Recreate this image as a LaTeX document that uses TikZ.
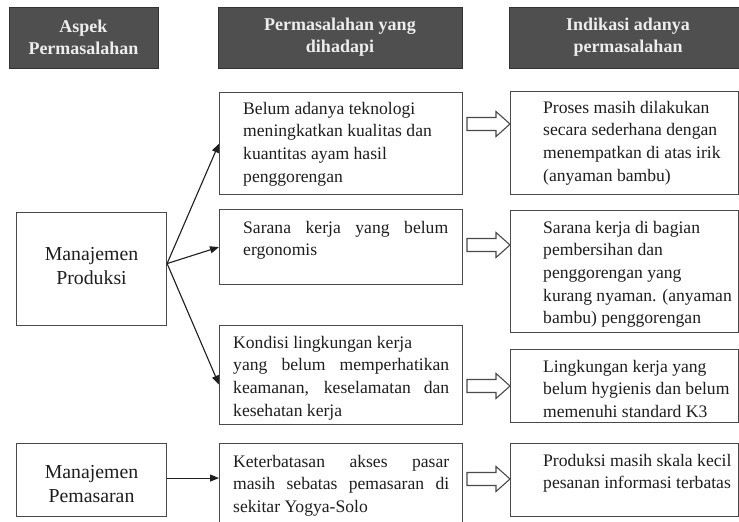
\documentclass[tikz,border=0pt]{standalone}
\usepackage{fontspec}
\setmainfont{Liberation Serif}
\usetikzlibrary{arrows.meta,calc}
\definecolor{hdfill}{HTML}{4F4F4F}
\definecolor{hdtext}{HTML}{EDEDED}
\definecolor{boxline}{HTML}{4A4A4A}
\definecolor{ink}{HTML}{1E1E1E}
\newcommand{\bodyfont}{\fontsize{17.6}{22.7}\selectfont}
\newcommand{\leftfont}{\fontsize{19.8}{23.5}\selectfont}
\newcommand{\jline}[1]{\makebox[\linewidth][s]{#1}}
\begin{document}
\begin{tikzpicture}[x=1pt,y=-1pt,
  hdbox/.style={draw=black!80, line width=0.8pt, fill=hdfill, text=hdtext,
    font=\bfseries\fontsize{18}{22}\selectfont, align=center, inner sep=0pt,
    outer sep=0pt, anchor=north west},
  box/.style={draw=boxline, line width=1.1pt, fill=white, inner sep=0pt,
    anchor=north west},
  lefttext/.style={text=ink, font=\leftfont, align=center, inner sep=0pt},
  lbl/.style={anchor=base west, inner sep=0pt, text=ink, font=\bodyfont},
  arr/.style={draw=ink, line width=1.1pt, -{Triangle[length=9pt,width=7pt]}},
  hollow/.style={draw=boxline, line width=1.1pt, fill=white, line join=miter},
  hollowarrow/.pic={\draw[hollow] (0,-6.5) -- (29,-6.5) -- (29,-12.5) -- (43,0)
     -- (29,12.5) -- (29,6.5) -- (0,6.5) -- cycle;}
]
\useasboundingbox[fill=white] (0,0) rectangle (739,522);

% headers
\node[hdbox, minimum width=149pt, minimum height=61pt] (hd1) at (9,7) {Aspek\\Permasalahan};
\node[hdbox, minimum width=244pt, minimum height=61pt] (hd2) at (218,7) {Permasalahan yang\\dihadapi};
\node[hdbox, minimum width=238pt, minimum height=61pt] (hd3) at (509,7) {Indikasi adanya\\permasalahan};

% left column
\node[box, minimum width=150pt, minimum height=113pt] (p1) at (16,212) {};
\node[box, minimum width=150pt, minimum height=73pt] (p2) at (16,443) {};
\node[lefttext] (tp1) at ($(p1.center)+(0,-3)$) {Manajemen\\Produksi};
\node[lefttext] (tp2) at ($(p2.center)+(0,4)$) {Manajemen\\Pemasaran};

% middle column
\node[box, minimum width=243pt, minimum height=102pt] (m1) at (219,92) {};
\node[box, minimum width=243pt, minimum height=75pt] (m2) at (219,209) {};
\node[box, minimum width=243pt, minimum height=99pt] (m3) at (219,325) {};
\node[box, minimum width=243pt, minimum height=90pt] (m4) at (219,443) {};

% right column
\node[box, minimum width=228pt, minimum height=103pt] (r1) at (510,91) {};
\node[box, minimum width=228pt, minimum height=122pt] (r2) at (510,210) {};
\node[box, minimum width=228pt, minimum height=73pt] (r3) at (510,349) {};
\node[box, minimum width=228pt, minimum height=73pt] (r4) at (510,443) {};

% middle texts
\node[lbl] (tm1) at (243,114) {\parbox[t]{230pt}{\raggedright Belum adanya teknologi\\meningkatkan kualitas dan\\kuantitas ayam hasil\\penggorengan}};
\node[lbl] (tm2) at (243,233) {\parbox[t]{205pt}{\raggedright \jline{Sarana kerja yang belum}\\ergonomis}};
\node[lbl] (tm3) at (233,348) {\parbox[t]{216pt}{\raggedright Kondisi lingkungan kerja\\\jline{yang belum memperhatikan}\\\jline{keamanan, keselamatan dan}\\kesehatan kerja}};
\node[lbl] (tm4) at (233,467) {\parbox[t]{216pt}{\raggedright \jline{Keterbatasan akses pasar}\\\jline{masih sebatas pemasaran di}\\sekitar Yogya-Solo}};

% right texts
\node[lbl] (tr1) at (543,113) {\parbox[t]{230pt}{\raggedright Proses masih dilakukan\\secara sederhana dengan\\menempatkan di atas irik\\(anyaman bambu)}};
\node[lbl] (tr2) at (543,233) {\parbox[t]{230pt}{\raggedright Sarana kerja di bagian\\pembersihan dan\\penggorengan yang\\kurang nyaman. (anyaman\\bambu) penggorengan}};
\node[lbl] (tr3) at (543,372) {\parbox[t]{230pt}{\raggedright Lingkungan kerja yang\\belum hygienis dan belum\\memenuhi standard K3}};
\node[lbl] (tr4) at (543,466) {\parbox[t]{230pt}{\raggedright Produksi masih skala kecil\\pesanan informasi terbatas}};

% connectors
\draw[arr] ([yshift=5.5pt]p1.east) -- (m1.west);
\draw[arr] ([yshift=5.5pt]p1.east) -- (m2.west);
\draw[arr] ([yshift=5.5pt]p1.east) -- ([yshift=-9.5pt]m3.west);
\draw[arr] ([yshift=2pt]p2.east) -- ([yshift=2pt]p2.east -| m4.west);

% hollow arrows
\pic at (467,124) {hollowarrow};
\pic at (467,245) {hollowarrow};
\pic at (467,386) {hollowarrow};
\pic at (467,479) {hollowarrow};
\end{tikzpicture}
\end{document}
